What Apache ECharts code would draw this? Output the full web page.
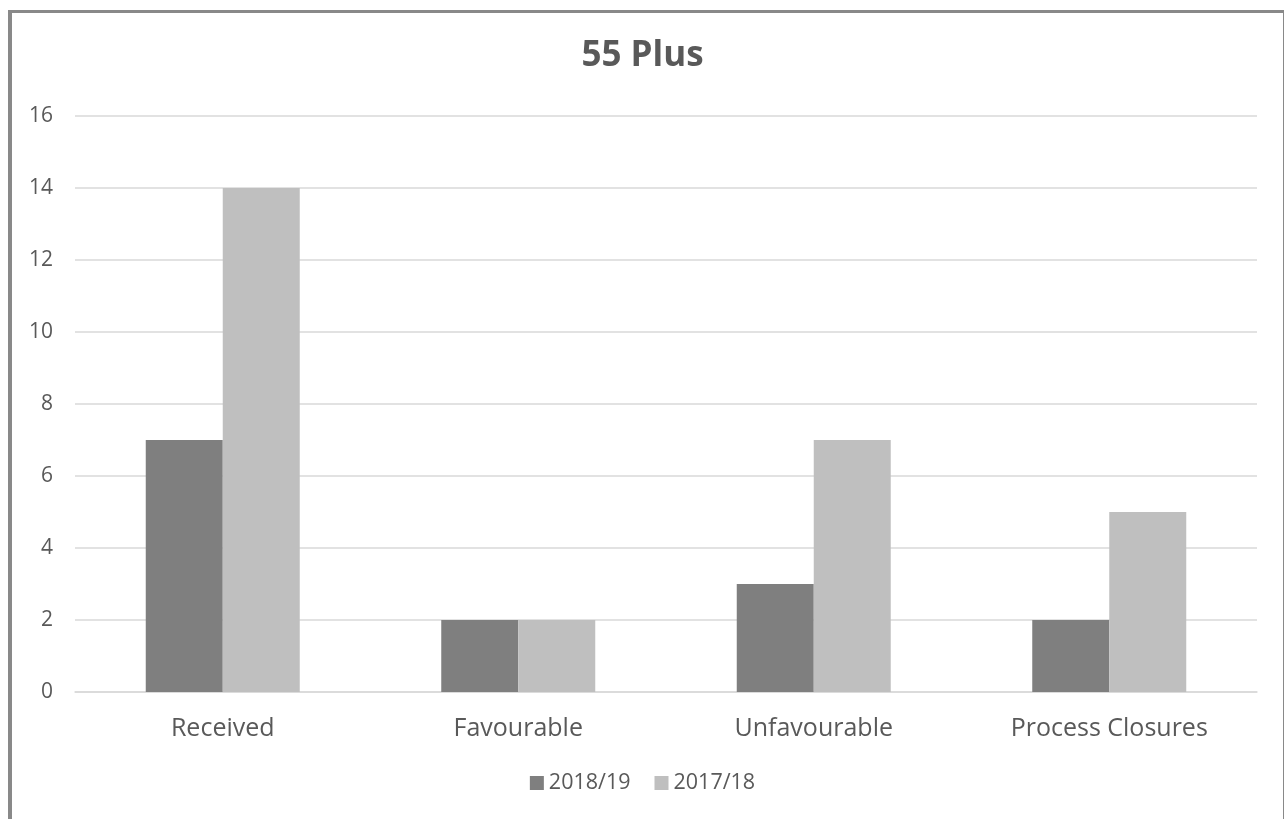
<!DOCTYPE html>
<html>
<head>
<meta charset="utf-8">
<script src="https://cdn.jsdelivr.net/npm/echarts@6/dist/echarts.min.js"></script>
<style>
html,body{margin:0;padding:0;background:#fff;}
#frame{position:absolute;left:8px;top:10px;width:1271px;height:820px;border-left:4px solid #898989;border-top:3px solid #898989;border-right:1px solid #898989;}
#c{position:absolute;left:0;top:0;width:1285px;height:819px;}
</style>
</head>
<body>
<div id="frame"></div>
<div id="c"></div>
<script>
const categories = ['Received', 'Favourable', 'Unfavourable', 'Process Closures'];
const series2018 = [7, 2, 3, 2];
const series2017 = [14, 2, 7, 5];
const seriesNames = ['2018/19', '2017/18'];
const yTicks = { min: 0, max: 16, interval: 2 };

const chart = echarts.init(document.getElementById('c'));
const font = '"Open Sans", "Noto Sans", sans-serif';
chart.setOption({
  animation: false,
  title: {
    text: '55 Plus', left: 'center', top: 34,
    textStyle: { fontFamily: font, fontSize: 35, fontWeight: 'bold', color: '#595959' }
  },
  legend: {
    bottom: 20, left: 'center', itemWidth: 14, itemHeight: 14, itemGap: 24,
    icon: 'rect',
    textStyle: { fontFamily: font, fontSize: 21.5, color: '#595959' },
    data: seriesNames
  },
  grid: { left: 75, right: 28, top: 116, bottom: 127 },
  xAxis: {
    type: 'category', data: categories,
    axisLine: { lineStyle: { color: '#d9d9d9', width: 1.5 } },
    axisTick: { show: false },
    axisLabel: { fontFamily: font, fontSize: 25, color: '#595959', margin: 24 }
  },
  yAxis: {
    type: 'value', min: yTicks.min, max: yTicks.max, interval: yTicks.interval,
    axisLine: { show: false }, axisTick: { show: false },
    splitLine: { lineStyle: { color: '#d9d9d9', width: 1.5 } },
    axisLabel: { fontFamily: font, fontSize: 21, color: '#595959', margin: 22 }
  },
  series: [
    { name: seriesNames[0], type: 'bar', data: series2018, barWidth: 77, barGap: '0%', itemStyle: { color: '#7f7f7f' } },
    { name: seriesNames[1], type: 'bar', data: series2017, barWidth: 77, barGap: '0%', itemStyle: { color: '#bfbfbf' } }
  ]
});
</script>
</body>
</html>
